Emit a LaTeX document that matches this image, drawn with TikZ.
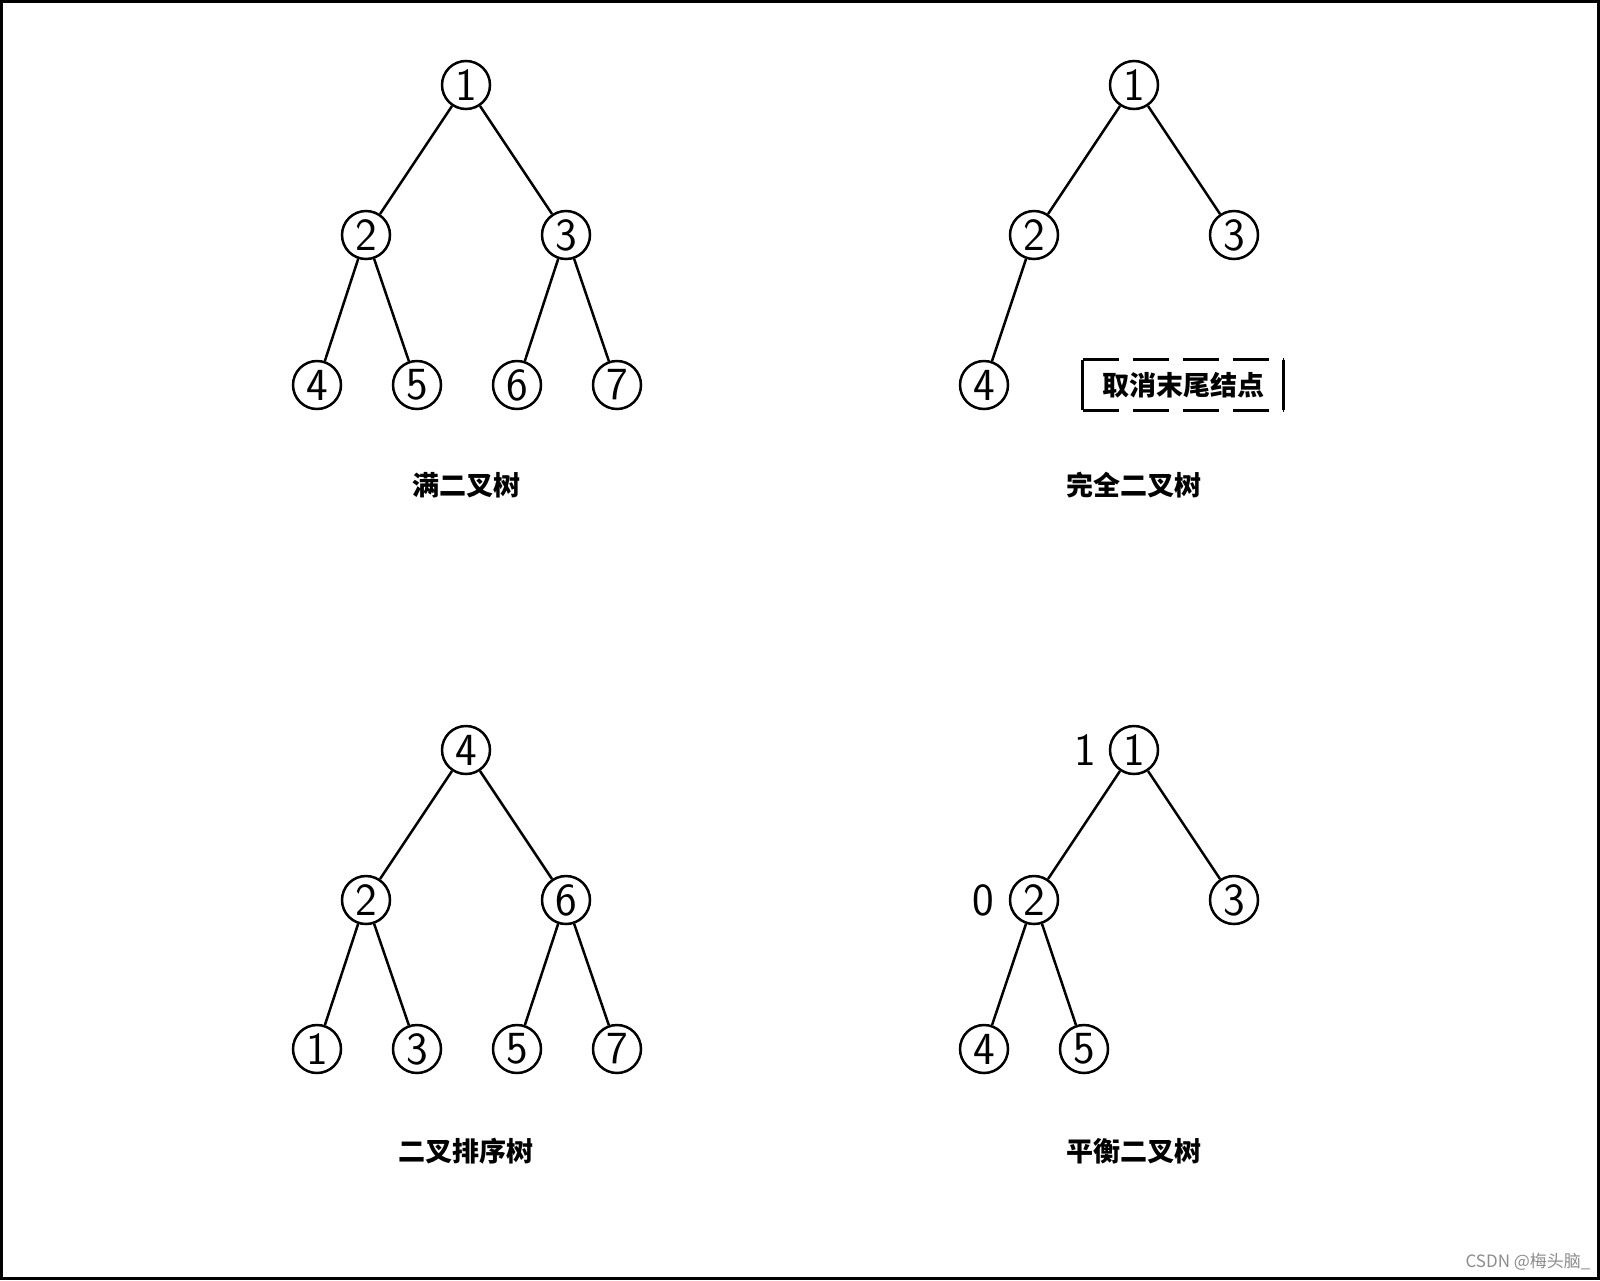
\documentclass[tikz,border=0pt]{standalone}
\usepackage{fontspec}
\newfontfamily\cjk{Noto Sans CJK SC}
\begin{document}
\begin{tikzpicture}[x=0.5pt,y=-0.5pt,
    nd/.style={circle,draw,line width=1.25pt,minimum size=24pt,inner sep=0pt,font=\fontsize{23}{23}\sffamily},
    num/.style={inner sep=0pt,font=\fontsize{23}{23}\sffamily},
    lbl/.style={inner sep=0pt,font=\fontsize{13.5}{14}\cjk\bfseries},
    edge/.style={line width=1.25pt}]
        \useasboundingbox (0,0) rectangle (1600,1280);
        % frame
        \draw [line width=1.5pt] (1.5,1.5) rectangle (1598.5,1278.5);
        % full tree
        \node [nd] (a1) at (466,85) {1};
        \node [nd] (a2) at (366,235) {2};\node [nd] (a3) at (566,235) {3};
        \node [nd] (a4) at (317,385) {4};\node [nd] (a5) at (417,385) {5};\node [nd] (a6) at (517,385) {6};\node [nd] (a7) at (617,385) {7};
        \draw [edge] (a1) -- (a2);\draw [edge] (a1) -- (a3);
        \draw [edge] (a2) -- (a4);\draw [edge] (a2) -- (a5);\draw [edge] (a3) -- (a6);\draw [edge] (a3) -- (a7);
        \node [lbl] (la) at (466,485) {满二叉树};
        % complete tree
        \node [nd] (b1) at (1134,85) {1};
        \node [nd] (b2) at (1034,235) {2};\node [nd] (b3) at (1234,235) {3};
        \node [nd] (b4) at (984,385) {4};
        \draw [edge] (b1) -- (b2);\draw [edge] (b1) -- (b3);\draw [edge] (b2) -- (b4);
        \node [lbl, minimum width=100pt, minimum height=25pt] (cut) at (1183,385) {取消末尾结点};
        \draw [edge] (cut.north west) -- (cut.south west);\draw [edge] (cut.north east) -- (cut.south east);
        \draw [edge, dash pattern=on 18pt off 7pt] (cut.north west) -- (cut.north east);
        \draw [edge, dash pattern=on 18pt off 7pt] (cut.south west) -- (cut.south east);
        \node [lbl] (lb) at (1134,485) {完全二叉树};
        % sort tree
        \node [nd] (c4) at (466,750) {4};
        \node [nd] (c2) at (366,900) {2};\node [nd] (c6) at (566,900) {6};
        \node [nd] (c1) at (317,1049) {1};\node [nd] (c3) at (417,1049) {3};\node [nd] (c5) at (517,1049) {5};\node [nd] (c7) at (617,1049) {7};
        \draw [edge] (c4) -- (c2);\draw [edge] (c4) -- (c6);
        \draw [edge] (c2) -- (c1);\draw [edge] (c2) -- (c3);\draw [edge] (c6) -- (c5);\draw [edge] (c6) -- (c7);
        \node [lbl] (lc) at (466,1151) {二叉排序树};
        % balanced tree
        \node [nd] (d1) at (1134,750) {1};
        \node [nd] (d2) at (1034,900) {2};\node [nd] (d3) at (1234,900) {3};
        \node [nd] (d4) at (984,1049) {4};\node [nd] (d5) at (1084,1049) {5};
        \draw [edge] (d1) -- (d2);\draw [edge] (d1) -- (d3);\draw [edge] (d2) -- (d4);\draw [edge] (d2) -- (d5);
        \node [num] (h1) at (1085,750) {1};\node [num] (h0) at (983,900) {0};
        \node [lbl] (ld) at (1134,1151) {平衡二叉树};
        % watermark
        \node [inner sep=0pt, text=black!45, font=\fontsize{8.5}{9}\cjk] (wm) at (1528,1262) {CSDN @梅头脑\_};
    \end{tikzpicture}
\end{document}
